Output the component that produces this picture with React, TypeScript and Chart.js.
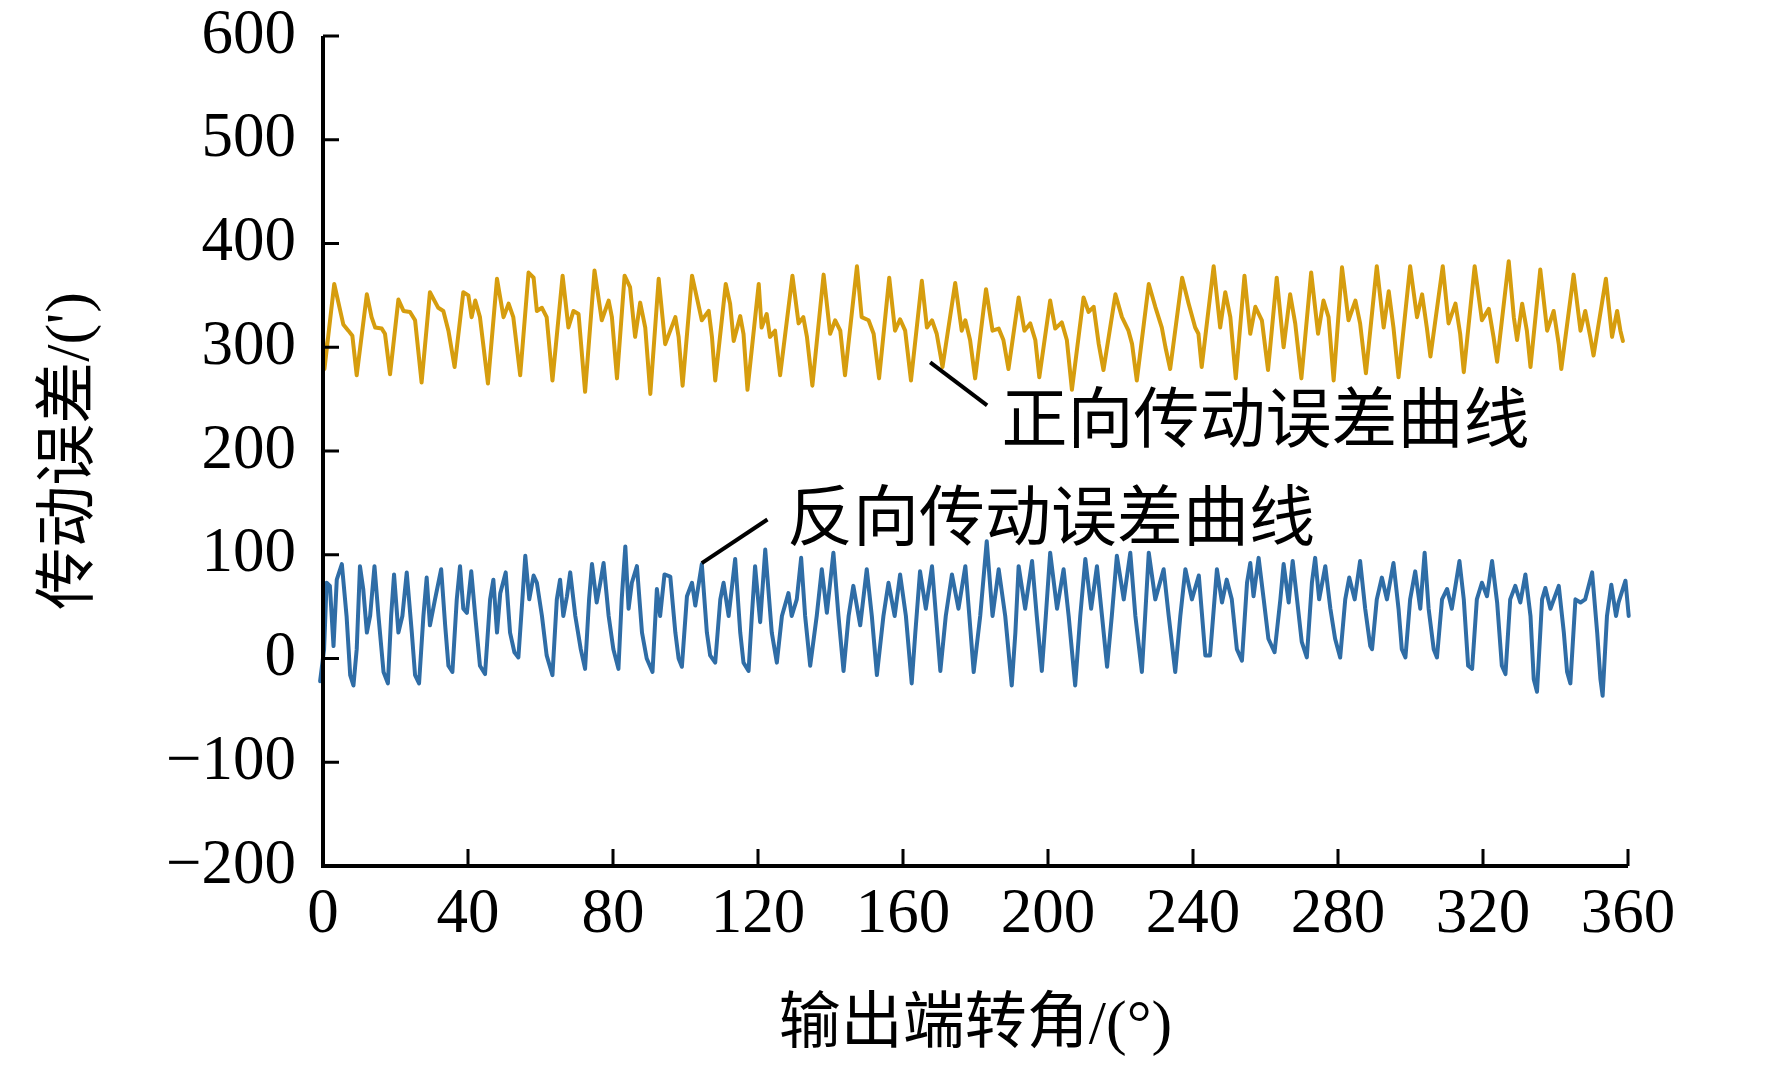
import { useEffect, useRef } from 'react';
import { Chart, registerables } from 'chart.js';

Chart.register(...registerables);

// angle (°) / error (') vertices
const forwardCurve: [number, number][] = [
  [0, 310], [0.4, 279], [3.1, 361], [5.6, 322], [7.0, 316], [8.1, 311], [9.3, 273],
  [12.1, 351], [13.4, 329], [14.4, 319], [16.2, 318], [17.1, 313], [18.5, 274],
  [20.8, 346], [22.2, 335], [24.0, 334], [25.4, 326], [27.2, 266],
  [29.5, 353], [31.8, 338], [33.2, 335], [34.6, 316], [36.3, 281],
  [38.7, 353], [40.1, 350], [41.0, 329], [42.0, 345], [43.3, 329], [45.5, 265],
  [48.0, 366], [49.8, 329], [51.2, 342], [52.5, 329], [54.4, 273],
  [56.7, 372], [58.1, 367], [59.0, 335], [60.4, 338], [61.7, 329], [63.3, 268],
  [66.1, 369], [67.7, 319], [69.1, 335], [70.5, 332], [72.3, 257],
  [74.9, 374], [76.9, 326], [78.8, 345], [79.7, 329], [81.1, 270],
  [83.2, 369], [84.7, 358], [86.1, 310], [87.5, 343], [88.9, 319], [90.3, 255],
  [92.6, 366], [94.4, 303], [97.2, 329], [98.1, 310], [99.2, 263],
  [101.8, 369], [104.5, 326], [106.4, 335], [107.3, 310], [108.2, 268],
  [111.1, 361], [112.3, 342], [113.3, 306], [115.1, 330], [116.0, 313], [117.1, 259],
  [120.2, 361], [121.0, 319], [122.4, 332], [123.3, 310], [124.7, 316], [126.1, 273],
  [129.5, 369], [131.2, 323], [132.5, 329], [133.5, 310], [135.0, 263],
  [138.1, 370], [139.9, 313], [141.3, 326], [142.7, 316], [144.0, 273],
  [147.3, 378], [148.6, 329], [150.5, 326], [151.9, 313], [153.4, 270],
  [156.2, 367], [157.8, 316], [159.2, 327], [160.6, 316], [162.2, 268],
  [165.2, 364], [166.6, 319], [168.0, 326], [169.3, 313], [170.9, 281],
  [174.4, 362], [176.2, 316], [177.2, 326], [178.5, 307], [179.9, 270],
  [182.9, 356], [184.7, 316], [186.4, 318], [187.7, 307], [189.1, 279],
  [191.9, 348], [193.5, 316], [195.1, 323], [196.5, 307], [197.6, 271],
  [200.6, 345], [202.0, 318], [203.8, 324], [205.2, 307], [206.6, 259],
  [209.8, 348], [211.2, 334], [212.6, 339], [214.0, 303], [215.3, 278],
  [218.6, 351], [220.4, 329], [222.2, 316], [223.2, 303], [224.5, 268],
  [227.8, 361], [229.6, 339], [231.4, 319], [232.4, 300], [233.7, 279],
  [237.0, 367], [238.8, 342], [240.6, 319], [241.5, 313], [242.4, 281],
  [245.7, 378], [247.5, 319], [248.9, 353], [250.3, 329], [251.8, 270],
  [254.2, 369], [255.8, 313], [257.2, 339], [259.0, 326], [260.7, 278],
  [263.1, 367], [265.0, 300], [266.8, 351], [268.2, 323], [269.9, 270],
  [272.6, 372], [274.5, 313], [276.0, 345], [277.4, 329], [278.8, 268],
  [281.1, 377], [282.9, 326], [284.8, 345], [286.1, 323], [287.7, 275],
  [290.7, 378], [292.6, 319], [294.0, 354], [295.3, 319], [296.7, 271],
  [299.9, 378], [301.8, 329], [303.2, 351], [304.5, 319], [305.5, 291],
  [308.9, 378], [310.5, 323], [312.4, 342], [313.7, 313], [314.7, 276],
  [317.7, 378], [319.7, 326], [321.6, 337], [322.9, 310], [323.9, 286],
  [327.1, 383], [328.5, 329], [329.4, 307], [330.8, 342], [332.1, 316], [333.1, 281],
  [335.8, 375], [337.7, 316], [339.5, 335], [340.9, 303], [341.6, 279],
  [345.0, 370], [346.9, 316], [348.2, 335], [349.6, 310], [350.5, 292],
  [353.9, 366], [355.6, 310], [357.0, 335], [357.9, 316], [358.6, 306],
];

const reverseCurve: [number, number][] = [
  [-0.8, -22], [0.3, 9], [1.0, 73], [1.9, 70], [2.9, 12], [3.8, 76], [5.2, 91], [6.5, 41], [7.5, -16], [8.4, -26],
  [9.3, 9], [10.2, 89], [11.1, 67], [12.1, 25], [13.0, 41], [14.2, 89], [15.3, 41], [16.7, -13], [17.9, -24],
  [18.8, 41], [19.6, 81], [20.8, 25], [21.9, 41], [23.1, 83], [24.5, 25], [25.4, -16], [26.5, -24],
  [27.7, 41], [28.6, 78], [29.5, 32], [30.9, 57], [32.6, 86], [33.7, 32], [34.6, -7], [35.7, -13],
  [36.9, 57], [37.8, 89], [38.7, 48], [39.7, 44], [40.9, 84], [42.0, 41], [43.3, -7], [44.7, -15],
  [46.1, 57], [47.0, 76], [48.0, 25], [48.9, 63], [50.4, 83], [51.6, 25], [52.8, 6], [53.9, 1],
  [55.0, 57], [55.8, 99], [56.9, 57], [58.1, 80], [59.0, 73], [60.4, 41], [61.7, 3], [63.3, -16],
  [64.5, 57], [65.4, 76], [66.3, 41], [67.3, 60], [68.2, 83], [69.6, 41], [71.1, 9], [72.3, -10],
  [73.4, 57], [74.2, 91], [75.5, 54], [76.5, 73], [77.4, 92], [78.8, 41], [80.1, 9], [81.5, -10],
  [82.4, 57], [83.4, 108], [84.3, 48], [85.2, 73], [86.6, 89], [88.0, 25], [89.3, 0], [90.9, -13],
  [92.1, 67], [93.0, 41], [94.2, 81], [95.8, 79], [97.2, 25], [98.1, 0], [99.0, -8],
  [100.4, 60], [101.8, 73], [102.7, 51], [104.5, 91], [105.9, 25], [106.8, 3], [108.2, -4],
  [109.6, 57], [110.5, 73], [111.9, 41], [113.7, 96], [115.1, 25], [116.0, -4], [117.4, -12],
  [118.3, 41], [119.2, 89], [120.6, 35], [122.0, 105], [123.8, 25], [125.2, -4],
  [126.6, 41], [128.4, 63], [129.3, 41], [130.7, 57], [131.9, 97], [133.0, 41], [134.4, -7],
  [136.2, 41], [137.6, 86], [139.0, 44], [140.8, 102], [142.2, 41], [143.6, -12],
  [145.0, 41], [146.3, 70], [148.2, 32], [150.0, 86], [151.4, 41], [152.8, -16],
  [154.6, 41], [156.0, 73], [157.7, 41], [159.2, 81], [160.8, 41], [162.4, -24],
  [163.4, 25], [164.7, 84], [166.3, 48], [168.0, 89], [169.1, 41], [170.3, -12],
  [171.8, 41], [173.5, 81], [175.3, 48], [177.2, 89], [178.3, 41], [179.5, -13],
  [181.3, 41], [183.1, 113], [184.7, 41], [186.4, 86], [188.2, 41], [190.0, -26],
  [191.0, 25], [191.9, 89], [193.7, 48], [195.6, 94], [196.9, 41], [198.3, -12],
  [199.4, 41], [200.6, 102], [202.5, 48], [204.3, 86], [205.7, 41], [207.5, -26],
  [208.9, 41], [210.3, 96], [211.9, 48], [213.5, 89], [214.9, 41], [216.3, -8],
  [217.6, 41], [219.0, 99], [220.9, 57], [222.7, 102], [224.1, 41], [225.9, -13],
  [226.8, 41], [227.8, 102], [229.6, 57], [231.9, 86], [233.3, 41], [235.1, -13],
  [236.5, 41], [237.9, 86], [239.7, 57], [241.6, 80], [243.4, 3], [244.7, 3],
  [246.6, 86], [248.0, 54], [249.3, 76], [250.7, 57], [252.1, 9], [253.5, -2],
  [254.9, 73], [255.8, 92], [256.7, 60], [258.1, 97], [259.5, 57], [260.8, 19], [262.5, 6],
  [264.1, 57], [265.0, 91], [266.4, 54], [267.5, 94], [268.7, 57], [270.0, 16], [271.4, 1],
  [272.8, 73], [273.7, 97], [274.8, 57], [276.5, 89], [277.9, 48], [279.2, 19], [280.6, 1],
  [282.0, 57], [283.1, 78], [284.6, 57], [286.1, 94], [287.5, 48], [288.9, 12], [289.4, 9],
  [290.7, 57], [292.1, 78], [293.5, 57], [295.3, 92], [296.7, 48], [297.6, 9], [298.6, 1],
  [299.9, 57], [301.3, 84], [302.7, 48], [303.9, 102], [305.0, 48], [306.4, 9], [307.3, 1],
  [308.7, 57], [310.1, 67], [311.4, 48], [313.5, 94], [314.7, 57], [315.9, -7], [317.0, -10],
  [318.3, 57], [319.7, 73], [321.1, 60], [322.5, 94], [323.9, 54], [325.2, -7], [326.2, -15],
  [327.5, 57], [328.9, 70], [330.3, 54], [331.7, 81], [333.1, 41], [334.0, -20], [334.9, -32],
  [336.3, 57], [337.2, 68], [338.6, 48], [340.9, 70], [342.3, 25], [343.2, -13], [344.1, -24],
  [345.5, 57], [346.9, 54], [348.2, 57], [350.1, 83], [351.5, 25], [352.4, -20], [353.0, -36],
  [354.2, 41], [355.4, 71], [356.7, 41], [357.4, 54], [359.3, 75], [360.2, 41], [361.1, -16], [361.6, -21],
];

const xTicks = [0, 40, 80, 120, 160, 200, 240, 280, 320, 360];
const yTicks = [-200, -100, 0, 100, 200, 300, 400, 500, 600];

const xTitle = '输出端转角/(°)';
const yTitle = "传动误差/(')";

// callout text, text anchor [x, y], leader line [x1, y1, x2, y2] in data units
const forwardLabel = '正向传动误差曲线';
const forwardLabelAt = [187.2, 225];
const forwardLeader = [167.5, 285.5, 183.2, 244];
const reverseLabel = '反向传动误差曲线';
const reverseLabelAt = [128, 131];
const reverseLeader = [104.5, 92, 122.6, 134];

const TEXT_FONT = "'Liberation Serif', 'Noto Sans CJK SC', serif";

const decorPlugin = {
  id: 'decor',
  afterDraw(chart: Chart) {
    const { ctx, chartArea: a } = chart;
    const x = chart.scales.x;
    const y = chart.scales.y;
    ctx.save();
    ctx.strokeStyle = '#000';
    ctx.fillStyle = '#000';

    // axis lines
    ctx.lineWidth = 4;
    ctx.beginPath();
    ctx.moveTo(a.left, a.top);
    ctx.lineTo(a.left, a.bottom);
    ctx.lineTo(a.right, a.bottom);
    ctx.stroke();

    // inward ticks
    ctx.lineWidth = 3;
    ctx.beginPath();
    xTicks.forEach((v) => {
      const px = x.getPixelForValue(v);
      ctx.moveTo(px, a.bottom);
      ctx.lineTo(px, a.bottom - 17);
    });
    yTicks.forEach((v) => {
      const py = y.getPixelForValue(v);
      ctx.moveTo(a.left, py);
      ctx.lineTo(a.left + 16, py);
    });
    ctx.stroke();

    // leader lines
    ctx.lineWidth = 4;
    [forwardLeader, reverseLeader].forEach((l) => {
      ctx.beginPath();
      ctx.moveTo(x.getPixelForValue(l[0]), y.getPixelForValue(l[1]));
      ctx.lineTo(x.getPixelForValue(l[2]), y.getPixelForValue(l[3]));
      ctx.stroke();
    });

    // callout labels
    ctx.font = `66px ${TEXT_FONT}`;
    ctx.textAlign = 'left';
    ctx.textBaseline = 'middle';
    ctx.fillText(forwardLabel, x.getPixelForValue(forwardLabelAt[0]), y.getPixelForValue(forwardLabelAt[1]));
    ctx.fillText(reverseLabel, x.getPixelForValue(reverseLabelAt[0]), y.getPixelForValue(reverseLabelAt[1]));

    // axis titles
    ctx.font = `62px ${TEXT_FONT}`;
    ctx.textAlign = 'center';
    ctx.fillText(xTitle, (a.left + a.right) / 2, 1027);
    ctx.translate(72, (a.top + a.bottom) / 2);
    ctx.rotate(-Math.PI / 2);
    ctx.fillText(yTitle, 0, 0);
    ctx.restore();
  },
};

const TransmissionErrorChart = () => {
  const chartRef = useRef<HTMLCanvasElement | null>(null);
  const chartInstance = useRef<Chart | null>(null);

  useEffect(() => {
    if (chartInstance.current) {
      chartInstance.current.destroy();
    }
    if (!chartRef.current) return;

    chartInstance.current = new Chart(chartRef.current, {
      type: 'line',
      data: {
        datasets: [
          {
            label: forwardLabel,
            data: forwardCurve.map(([a, e]) => ({ x: a, y: e })),
            borderColor: '#D69D0E',
            borderWidth: 4,
            borderJoinStyle: 'round',
            borderCapStyle: 'round',
            pointRadius: 0,
            tension: 0,
            clip: false,
          },
          {
            label: reverseLabel,
            data: reverseCurve.map(([a, e]) => ({ x: a, y: e })),
            borderColor: '#2F6DA6',
            borderWidth: 4,
            borderJoinStyle: 'round',
            borderCapStyle: 'round',
            pointRadius: 0,
            tension: 0,
            clip: false,
          },
        ],
      },
      options: {
        animation: false,
        responsive: false,
        devicePixelRatio: 1,
        layout: { padding: { top: 36, right: 144, bottom: 0, left: 0 } },
        plugins: {
          legend: { display: false },
          tooltip: { enabled: false },
        },
        scales: {
          x: {
            type: 'linear',
            min: 0,
            max: 360,
            afterBuildTicks: (s: any) => {
              s.ticks = xTicks.map((v) => ({ value: v }));
            },
            afterFit: (s: any) => {
              s.height = 200;
              s.paddingLeft = 0;
              s.paddingRight = 0;
            },
            grid: { display: false, drawTicks: false },
            border: { display: false },
            ticks: {
              color: '#000',
              padding: 18,
              maxRotation: 0,
              autoSkip: false,
              font: { family: 'Liberation Serif', size: 63, lineHeight: 1 },
            },
          },
          y: {
            type: 'linear',
            min: -200,
            max: 600,
            afterBuildTicks: (s: any) => {
              s.ticks = yTicks.map((v) => ({ value: v }));
            },
            afterFit: (s: any) => {
              s.width = 323;
              s.paddingTop = 0;
              s.paddingBottom = 0;
            },
            grid: { display: false, drawTicks: false },
            border: { display: false },
            ticks: {
              color: '#000',
              padding: 27,
              autoSkip: false,
              font: { family: 'Liberation Serif', size: 63, lineHeight: 1 },
              callback: (v: any) => (Number(v) < 0 ? '\u2212' + Math.abs(Number(v)) : String(v)),
            },
          },
        },
      },
      plugins: [decorPlugin],
    });

    return () => {
      if (chartInstance.current) {
        chartInstance.current.destroy();
        chartInstance.current = null;
      }
    };
  }, []);

  return (
    <div style={{ position: 'fixed', left: 0, top: 0, width: 1772, height: 1066, background: '#fff' }}>
      <canvas ref={chartRef} width={1772} height={1066} style={{ display: 'block', width: 1772, height: 1066 }} />
    </div>
  );
};

export default function App() {
  return <TransmissionErrorChart />;
}
